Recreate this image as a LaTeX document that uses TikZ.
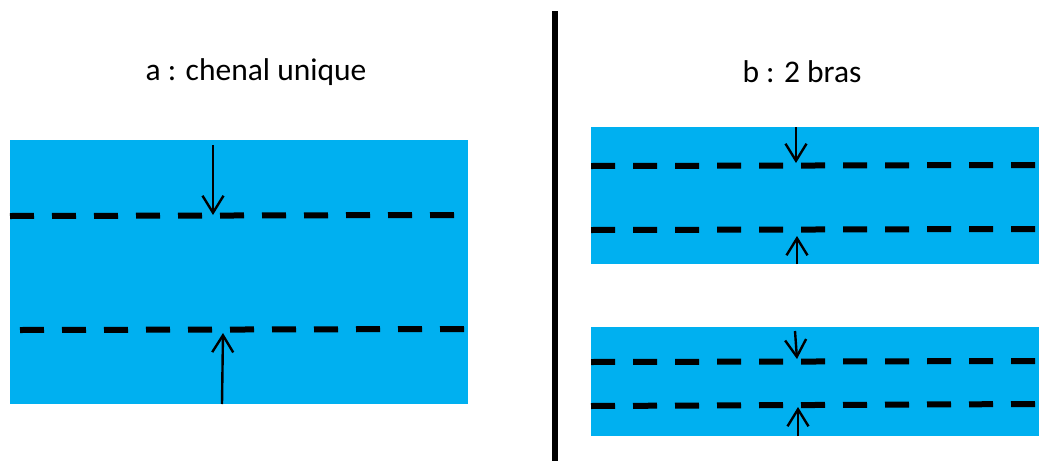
\documentclass[tikz,border=0pt]{standalone}
\usepackage{fontspec}
\setmainfont{Carlito}
\usetikzlibrary{arrows.meta}
\definecolor{water}{HTML}{00B0F0}
\begin{document}
\begin{tikzpicture}[x=1pt,y=-1pt,
  channel/.style={fill=water,draw=none},
  axis/.style={line width=6pt,dash pattern=on 24pt off 18pt},
  pointer/.style={line width=2.4pt,-{Straight Barb[length=17pt,width=21pt,line width=2.4pt]}},
  title/.style={font=\fontsize{31.5}{36}\selectfont,inner sep=0pt}]
\useasboundingbox (0,0) rectangle (1039,461);
% left panel
\fill[channel] (10,140) rectangle (468,404);
\coordinate (a1l) at (10,216); \coordinate (a1r) at (454,215);
\coordinate (a2l) at (20,330); \coordinate (a2r) at (465,329);
\draw[axis] (a1l) -- (a1r);
\draw[axis] (a2l) -- (a2r);
\coordinate (a1s) at (213,145); \coordinate (a1e) at (213,215);
\coordinate (a2s) at (222,404); \coordinate (a2e) at (223,333);
\draw[pointer] (a1s) -- (a1e);
\draw[pointer] (a2s) -- (a2e);
\node[title] (ta) at (256,72) {a : chenal unique};
% divider
\coordinate (d1) at (554.7,11); \coordinate (d2) at (554.7,461);
\draw[line width=6pt] (d1) -- (d2);
% right panel
\node[title] (tb) at (802,72) {b : 2 bras};
\fill[channel] (591,127) rectangle (1039,264);
\fill[channel] (591,327) rectangle (1039,436);
\coordinate (b1l) at (591,166); \coordinate (b1r) at (1036,165);
\coordinate (b2l) at (591,230); \coordinate (b2r) at (1036,229);
\coordinate (b3l) at (591,362); \coordinate (b3r) at (1036,361);
\coordinate (b4l) at (591,406); \coordinate (b4r) at (1036,404);
\draw[axis] (b1l) -- (b1r);
\draw[axis] (b2l) -- (b2r);
\draw[axis] (b3l) -- (b3r);
\draw[axis] (b4l) -- (b4r);
\coordinate (p1s) at (796,127); \coordinate (p1e) at (796,163);
\coordinate (p2s) at (797,264); \coordinate (p2e) at (797,236);
\coordinate (p3s) at (795,331); \coordinate (p3e) at (797,359);
\coordinate (p4s) at (798,436); \coordinate (p4e) at (798,407);
\draw[pointer] (p1s) -- (p1e);
\draw[pointer] (p2s) -- (p2e);
\draw[pointer] (p3s) -- (p3e);
\draw[pointer] (p4s) -- (p4e);
\end{tikzpicture}
\end{document}
